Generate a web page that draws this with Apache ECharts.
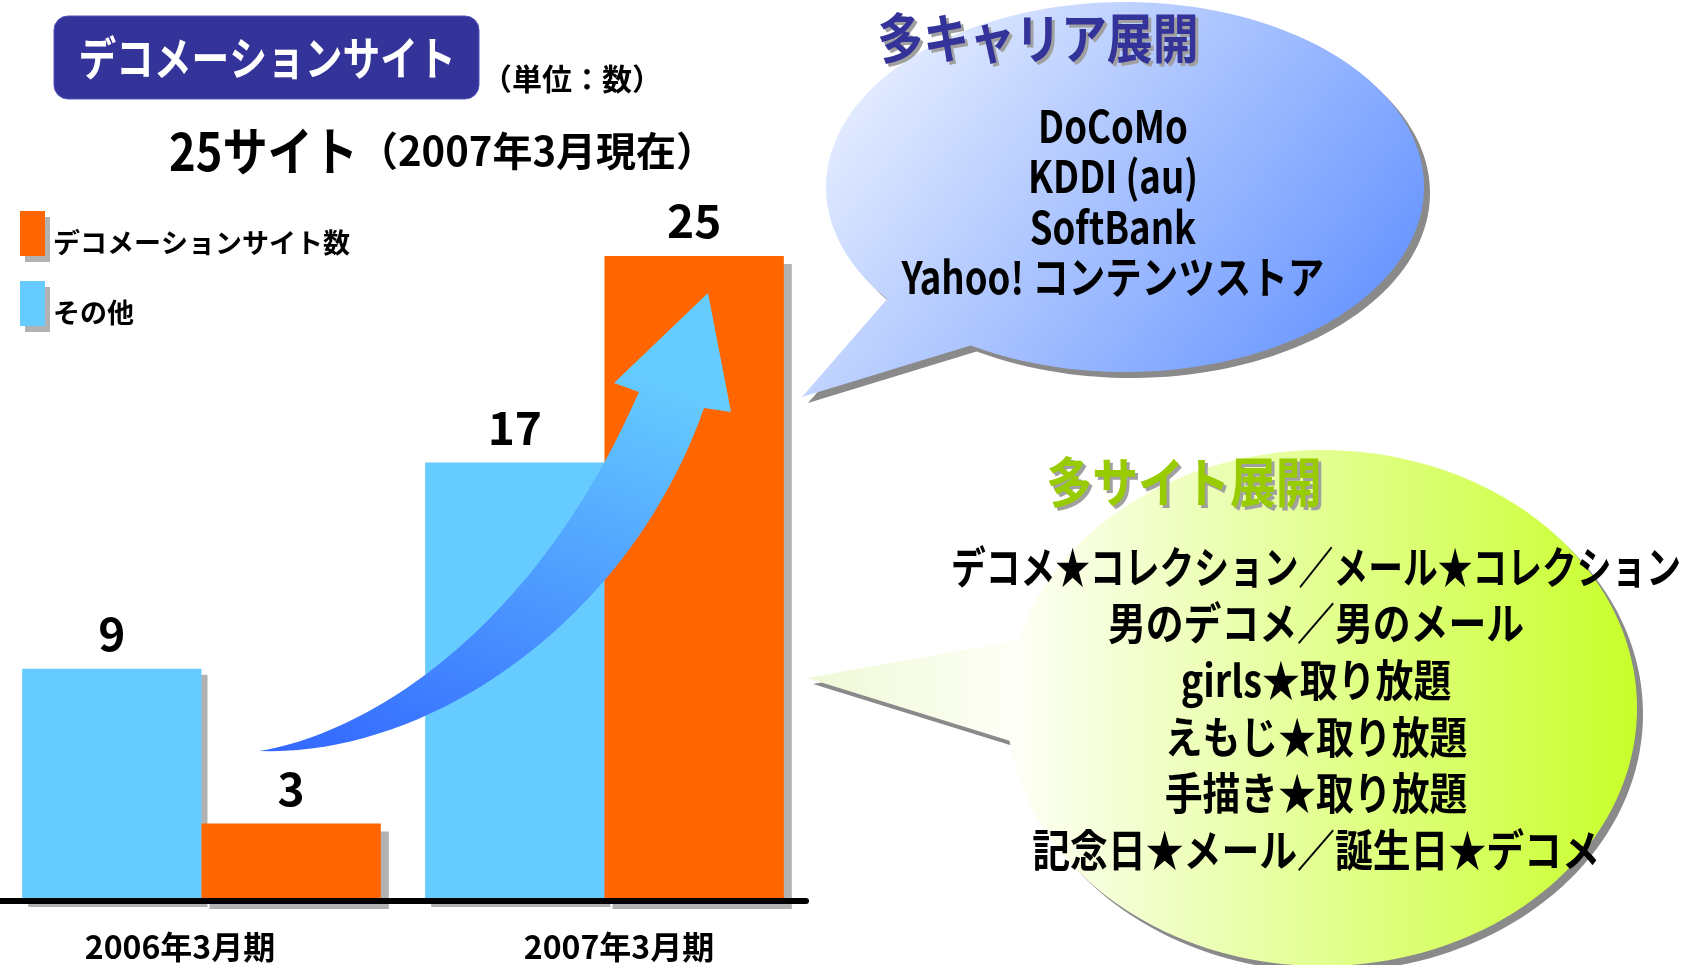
<!DOCTYPE html>
<html>
<head>
<meta charset="utf-8">
<script src="https://cdn.jsdelivr.net/npm/echarts@6/dist/echarts.min.js"></script>
<style>
  html, body { margin: 0; padding: 0; background: #fff; }
  #chart { width: 1688px; height: 965px; }
</style>
</head>
<body>
<div id="chart"></div>
<script>
// データ
const categories = ['2006年3月期', '2007年3月期'];
const otherSites = [9, 17];   // その他
const decoSites = [3, 25];    // デコメーションサイト数
const carriers = ['DoCoMo', 'KDDI (au)', 'SoftBank', 'Yahoo! コンテンツストア'];
const siteNames = [
  'デコメ★コレクション／メール★コレクション',
  '男のデコメ／男のメール',
  'girls★取り放題',
  'えもじ★取り放題',
  '手描き★取り放題',
  '記念日★メール／誕生日★デコメ'
];

const FONT = "'Noto Sans CJK JP', 'Noto Sans', sans-serif";

// 吹き出し(楕円 + しっぽ)の頂点を作る
function bubble(b, dx, dy) {
  const a1 = Math.atan2((b.from[1] - b.cy) / b.ry, (b.from[0] - b.cx) / b.rx);
  let a2 = Math.atan2((b.to[1] - b.cy) / b.ry, (b.to[0] - b.cx) / b.rx);
  while (a2 > a1) a2 -= Math.PI * 2;
  const pts = [[b.tip[0] + dx, b.tip[1] + dy]];
  const n = 160;
  for (let i = 0; i <= n; i++) {
    const a = a1 + (a2 - a1) * i / n;
    pts.push([b.cx + b.rx * Math.cos(a) + dx, b.cy + b.ry * Math.sin(a) + dy]);
  }
  return pts;
}

// 3次ベジェを点列にする
function cubic(p0, p1, p2, p3) {
  const pts = [];
  for (let i = 0; i <= 40; i++) {
    const t = i / 40, u = 1 - t;
    pts.push([
      u * u * u * p0[0] + 3 * u * u * t * p1[0] + 3 * u * t * t * p2[0] + t * t * t * p3[0],
      u * u * u * p0[1] + 3 * u * u * t * p1[1] + 3 * u * t * t * p2[1] + t * t * t * p3[1]
    ]);
  }
  return pts;
}

function txt(text, x, y, size, color, sx, z, align) {
  return {
    type: 'text', x: x, y: y, z: z || 20, scaleX: sx || 1,
    style: {
      text: text, fill: color, font: 'bold ' + size + 'px ' + FONT,
      textAlign: align || 'center', textVerticalAlign: 'middle'
    }
  };
}

const blueB = { cx: 1125, cy: 187, rx: 299, ry: 185, tip: [802, 397], from: [969, 347], to: [883, 301] };
const greenB = { cx: 1322, cy: 708, rx: 315, ry: 258, tip: [807, 678], from: [1006, 741], to: [1017, 640] };

const graphics = [];

// タイトル
graphics.push({
  type: 'rect', z: 5,
  shape: { x: 54, y: 16, width: 425, height: 83, r: 14 },
  style: { fill: '#333399', stroke: '#5555bb', lineWidth: 1 }
});
graphics.push(txt('デコメーションサイト', 267, 58, 46, '#fff', 0.82));
graphics.push(txt('（単位：数）', 572, 79, 30, '#000', 1.0));
graphics.push(txt('25サイト', 169, 151, 52, '#000', 0.87, 20, 'left'));
graphics.push(txt('（2007年3月現在）', 358, 151, 40, '#000', 1.0, 20, 'left'));

// 青い吹き出し
graphics.push({
  type: 'polygon', z: 3,
  shape: { points: bubble(blueB, 6, 6) },
  style: { fill: '#8a8a8a' }
});
graphics.push({
  type: 'polygon', z: 4,
  shape: { points: bubble(blueB, 0, 0) },
  style: {
    fill: { type: 'linear', x: 0.1, y: 0, x2: 0.9, y2: 1,
      colorStops: [{ offset: 0, color: '#EEF3FF' }, { offset: 1, color: '#5F8FFF' }] }
  }
});
graphics.push(txt('多キャリア展開', 1041, 41, 54, '#a0a0a0', 0.85));
graphics.push(txt('多キャリア展開', 1038, 38, 54, '#333399', 0.85, 21));
carriers.forEach(function (c, i) {
  graphics.push(txt(c, 1113, 126 + i * 50.5, 44, '#000', 0.83));
});

// 緑の吹き出し
graphics.push({
  type: 'polygon', z: 3,
  shape: { points: bubble(greenB, 6, 6) },
  style: { fill: '#8a8a8a' }
});
graphics.push({
  type: 'polygon', z: 4,
  shape: { points: bubble(greenB, 0, 0) },
  style: {
    fill: { type: 'linear', x: 0, y: 0, x2: 1, y2: 0,
      colorStops: [{ offset: 0, color: '#EFF9D6' }, { offset: 0.25, color: '#FDFFF6' }, { offset: 1, color: '#C8FF2A' }] }
  }
});
graphics.push(txt('多サイト展開', 1187, 485, 54, '#a0a0a0', 0.85));
graphics.push(txt('多サイト展開', 1184, 482, 54, '#99CC00', 0.85, 21));
siteNames.forEach(function (s, i) {
  graphics.push(txt(s, 1316, 567 + i * 56.6, 44, '#000', i === 0 ? 0.79 : 0.86));
});

// 矢印
const arrowPts = []
  .concat(cubic([259, 751], [360, 735], [530, 640], [639, 392]))
  .concat([[614, 383], [708, 293], [731, 412]])
  .concat(cubic([704, 408], [630, 620], [430, 757], [259, 751]));
graphics.push({
  type: 'polygon', z: 30,
  shape: { points: arrowPts },
  style: {
    fill: { type: 'linear', x: 0, y: 1, x2: 0.35, y2: 0,
      colorStops: [{ offset: 0, color: '#3366FF' }, { offset: 1, color: '#66CCFF' }] }
  }
});

const valueLabel = { show: true, position: 'top', distance: 12, fontSize: 46, fontWeight: 'bold', color: '#000', fontFamily: FONT };

const chart = echarts.init(document.getElementById('chart'));
chart.setOption({
  animation: false,
  grid: { left: 0, right: 882, top: 127, bottom: 64, containLabel: false },
  legend: {
    left: 20, top: 211, padding: 0, orient: 'vertical', icon: 'rect',
    itemWidth: 25, itemHeight: 45, itemGap: 25, selectedMode: false,
    data: ['デコメーションサイト数', 'その他'],
    itemStyle: { shadowColor: '#b2b2b2', shadowBlur: 0, shadowOffsetX: 5, shadowOffsetY: 6 },
    formatter: '{t|{name}}',
    textStyle: {
      color: '#000',
      rich: { t: { fontSize: 27, fontWeight: 'bold', color: '#000', fontFamily: FONT, padding: [18, 0, 0, 3] } }
    }
  },
  xAxis: {
    type: 'category', data: categories, offset: 3, z: 5,
    axisLine: { lineStyle: { color: '#000', width: 6 } },
    axisTick: { show: false },
    axisLabel: {
      margin: 27,
      formatter: function (v, i) { return i === 0 ? '{a|' + v + '}' : '{b|' + v + '}'; },
      rich: {
        a: { fontSize: 32, fontWeight: 'bold', color: '#000', fontFamily: FONT, padding: [0, 43, 0, 0] },
        b: { fontSize: 32, fontWeight: 'bold', color: '#000', fontFamily: FONT, padding: [0, 0, 0, 29] }
      }
    }
  },
  yAxis: { type: 'value', min: 0, max: 30, show: false, splitLine: { show: false } },
  series: [
    {
      name: 'その他', type: 'bar', data: otherSites,
      barGap: '0%', barCategoryGap: '11%',
      itemStyle: { color: '#66CCFF', shadowColor: '#b2b2b2', shadowBlur: 0, shadowOffsetX: 6, shadowOffsetY: 6 },
      label: valueLabel
    },
    {
      name: 'デコメーションサイト数', type: 'bar', data: decoSites,
      barGap: '0%', barCategoryGap: '11%',
      itemStyle: { color: '#FF6600', shadowColor: '#b2b2b2', shadowBlur: 0, shadowOffsetX: 8, shadowOffsetY: 8 },
      label: valueLabel
    }
  ],
  graphic: { elements: graphics }
});
</script>
</body>
</html>
